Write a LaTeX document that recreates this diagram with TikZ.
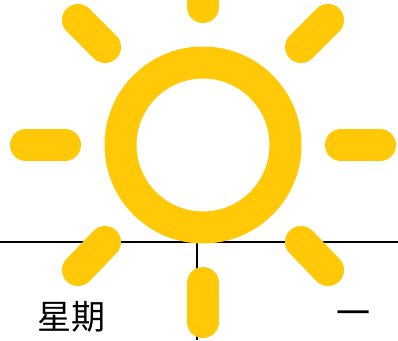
\documentclass[tikz,border=0pt]{standalone}
\usepackage{fontspec}
\newfontfamily\cjk{Noto Sans CJK TC}
\definecolor{sunyellow}{HTML}{FFC907}
\tikzset{
  ray/.style={draw=sunyellow,line width=32pt,line cap=round},
  ring/.style={draw=sunyellow,line width=32pt},
  rule/.style={draw=black,line width=1.6pt},
  label/.style={inner sep=0pt,font=\cjk\fontsize{34}{34}\selectfont}
}
\begin{document}
\begin{tikzpicture}[x=1pt,y=-1pt]
\useasboundingbox (0,0) rectangle (398,340);
\fill[white] (0,0) rectangle (398,340);
% table rules
\draw[rule] (0,241.8) -- (398,241.8);
\draw[rule] (197,241.8) -- (197,340);
% sun
\begin{scope}
\clip (0,0) rectangle (398,340);
\draw[ring] (203,145) circle[radius=82.5];
\draw[ray] (203,-10) -- (203,7);
\draw[ray] (203,283) -- (203,322);
\draw[ray] (26,145) -- (65,145);
\draw[ray] (341,145) -- (380,145);
\draw[ray] (78,20) -- (105,47);
\draw[ray] (328,20) -- (301,47);
\draw[ray] (105,242) -- (78,270);
\draw[ray] (301,242) -- (328,270);
\end{scope}
% labels
\node[label] (xingqi) at (71.5,317) {星期};
\node[label] (yi) at (353,318.5) {一};
\end{tikzpicture}
\end{document}
